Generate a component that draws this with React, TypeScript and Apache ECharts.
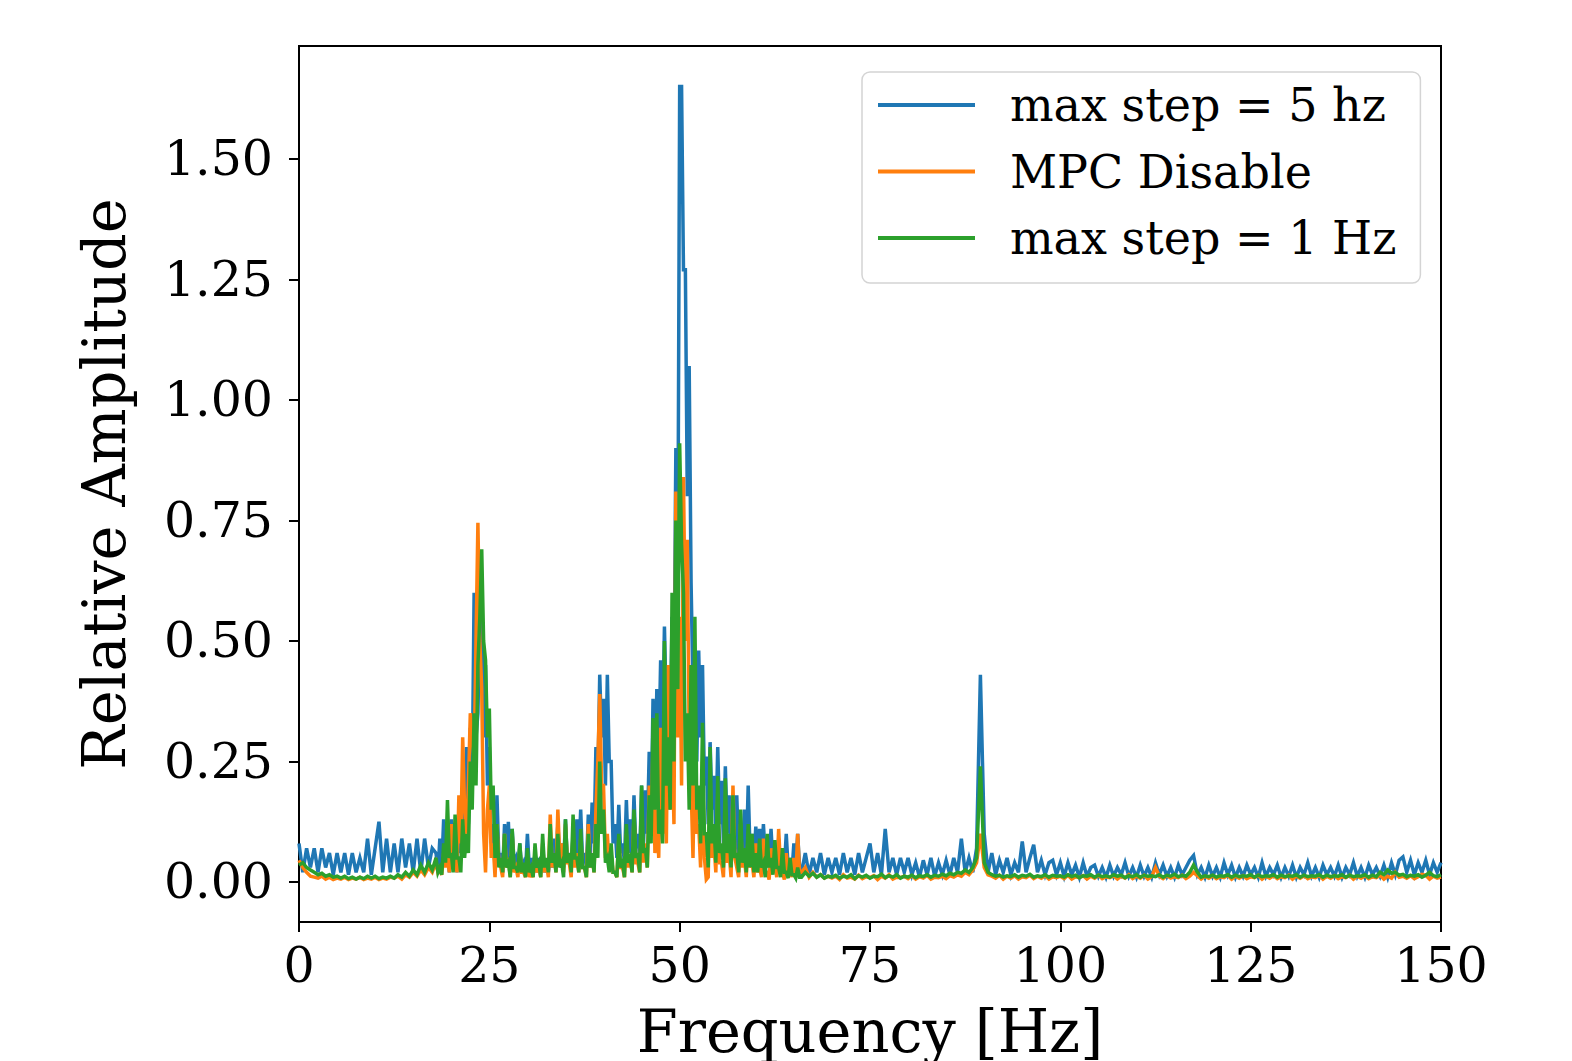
import React, { useEffect, useRef } from "react";
import * as echarts from "echarts";

// Base sampling of the read-off spectra (Hz): index i -> i * FREQ_STEP
const FREQ_STEP = 0.5;
// Extra in-between samples for the busy 18–66 Hz band: index j -> MID_START + j * FREQ_STEP
const MID_START = 18.25;
const X_TICKS = [0, 25, 50, 75, 100, 125, 150];
const Y_TICKS = [0, 0.25, 0.5, 0.75, 1.0, 1.25, 1.5];
const SERIES_NAMES = ["max step = 5 hz", "MPC Disable", "max step = 1 Hz"];
const COLORS = ["#1f77b4", "#ff7f0e", "#2ca02c"];

// each line = 10 Hz (20 samples)
const BLUE = [
  0.08,0.02,0.07,0.03,0.07,0.02,0.07,0.03,0.06,0.015,0.06,0.02,0.06,0.015,0.06,0.02,0.05,0.02,0.09,0.015,
  0.07,0.125,0.02,0.09,0.02,0.08,0.02,0.09,0.03,0.08,0.02,0.09,0.02,0.09,0.03,0.07,0.06,0.09,0.13,0.08,
  0.13,0.07,0.15,0.10,0.28,0.32,0.60,0.35,0.55,0.45,0.28,0.12,0.18,0.06,0.12,0.125,0.11,0.05,0.08,0.04,
  0.10,0.05,0.06,0.05,0.05,0.04,0.06,0.09,0.12,0.08,0.13,0.06,0.10,0.13,0.15,0.06,0.14,0.165,0.28,0.43,
  0.38,0.43,0.25,0.12,0.16,0.08,0.17,0.13,0.18,0.10,0.20,0.19,0.27,0.38,0.40,0.46,0.53,0.44,0.55,0.90,
  1.65,1.27,0.80,0.62,0.42,0.48,0.45,0.26,0.29,0.22,0.28,0.21,0.24,0.18,0.14,0.18,0.12,0.15,0.20,0.10,
  0.115,0.11,0.12,0.08,0.11,0.06,0.09,0.07,0.10,0.05,0.08,0.10,0.02,0.06,0.015,0.05,0.02,0.06,0.015,0.05,
  0.02,0.05,0.015,0.06,0.02,0.05,0.015,0.06,0.02,0.05,0.08,0.02,0.06,0.015,0.11,0.02,0.05,0.015,0.05,0.02,
  0.05,0.015,0.04,0.01,0.045,0.015,0.05,0.012,0.04,0.015,0.045,0.015,0.05,0.02,0.09,0.02,0.05,0.02,0.07,0.43,
  0.10,0.02,0.06,0.015,0.045,0.02,0.05,0.015,0.04,0.02,0.084,0.02,0.05,0.077,0.02,0.045,0.015,0.04,0.045,0.015,
  0.04,0.012,0.04,0.015,0.035,0.01,0.04,0.012,0.03,0.035,0.012,0.03,0.01,0.035,0.012,0.03,0.015,0.04,0.012,0.03,
  0.01,0.035,0.012,0.03,0.01,0.04,0.015,0.035,0.012,0.03,0.01,0.035,0.015,0.03,0.045,0.055,0.015,0.03,0.01,0.035,
  0.012,0.03,0.01,0.04,0.015,0.035,0.01,0.03,0.012,0.035,0.015,0.03,0.01,0.04,0.012,0.03,0.015,0.035,0.01,0.03,
  0.012,0.035,0.01,0.03,0.015,0.04,0.012,0.03,0.01,0.035,0.015,0.03,0.012,0.035,0.01,0.03,0.015,0.04,0.012,0.03,
  0.01,0.035,0.015,0.03,0.012,0.035,0.01,0.04,0.015,0.045,0.052,0.02,0.045,0.015,0.04,0.02,0.045,0.015,0.04,0.02,
  0.04,
];
// 18.25 … 65.75 Hz
const BLUE_MID = [
  0.02,0.03,0.04,0.02,0.05,0.02,0.06,0.15,0.12,0.20,0.30,0.55,0.30,0.20,0.08,0.03,0.05,0.02,0.04,0.03,0.04,0.02,0.03,0.02,
  0.03,0.02,0.02,0.02,0.02,0.02,0.03,0.04,0.05,0.03,0.04,0.03,0.04,0.05,0.04,0.03,0.05,0.08,0.20,0.30,
  0.20,0.25,0.08,0.05,0.06,0.04,0.06,0.05,0.07,0.05,0.08,0.10,0.12,0.20,0.25,0.30,0.35,0.30,0.40,0.60,
  1.65,1.27,1.07,0.40,0.25,0.30,0.20,0.12,0.15,0.10,0.12,0.08,0.10,0.07,0.06,0.06,0.05,0.05,0.06,0.04,
  0.05,0.04,0.05,0.03,0.04,0.03,0.03,0.03,0.03,0.02,0.03,0.03,
];

const ORANGE = [
  0.045,0.03,0.02,0.012,0.01,0.008,0.012,0.006,0.01,0.005,0.008,0.006,0.01,0.005,0.008,0.006,0.01,0.005,0.008,0.006,
  0.01,0.005,0.008,0.006,0.01,0.008,0.012,0.006,0.015,0.01,0.02,0.012,0.025,0.015,0.03,0.02,0.04,0.025,0.06,0.05,
  0.12,0.06,0.18,0.30,0.10,0.35,0.25,0.745,0.40,0.02,0.20,0.08,0.12,0.03,0.10,0.05,0.10,0.03,0.07,0.02,
  0.05,0.02,0.06,0.03,0.08,0.04,0.14,0.06,0.15,0.08,0.12,0.04,0.10,0.06,0.09,0.03,0.12,0.05,0.15,0.39,
  0.20,0.10,0.06,0.02,0.09,0.03,0.10,0.05,0.14,0.04,0.12,0.08,0.20,0.29,0.15,0.32,0.22,0.45,0.30,0.81,
  0.55,0.84,0.71,0.20,0.30,0.12,0.25,0.005,0.22,0.08,0.18,0.04,0.15,0.06,0.20,0.03,0.12,0.05,0.10,0.04,
  0.08,0.03,0.09,0.02,0.07,0.04,0.11,0.02,0.06,0.03,0.05,0.10,0.02,0.03,0.01,0.02,0.01,0.015,0.008,0.012,
  0.008,0.012,0.005,0.015,0.008,0.01,0.006,0.014,0.007,0.011,0.009,0.013,0.005,0.012,0.008,0.015,0.006,0.01,0.009,0.012,
  0.007,0.013,0.006,0.011,0.008,0.014,0.006,0.01,0.009,0.012,0.007,0.013,0.01,0.015,0.012,0.02,0.015,0.025,0.04,0.10,
  0.03,0.015,0.012,0.008,0.014,0.006,0.012,0.008,0.013,0.006,0.011,0.009,0.014,0.007,0.012,0.008,0.013,0.006,0.011,0.009,
  0.012,0.007,0.014,0.006,0.011,0.009,0.013,0.006,0.012,0.008,0.014,0.007,0.011,0.009,0.013,0.006,0.012,0.008,0.015,0.007,
  0.012,0.008,0.014,0.006,0.011,0.03,0.012,0.007,0.013,0.008,0.011,0.009,0.014,0.007,0.012,0.02,0.013,0.006,0.012,0.008,
  0.013,0.007,0.011,0.009,0.014,0.006,0.012,0.008,0.013,0.007,0.011,0.009,0.014,0.006,0.012,0.008,0.013,0.007,0.011,0.009,
  0.014,0.006,0.012,0.008,0.013,0.007,0.011,0.009,0.014,0.006,0.012,0.008,0.013,0.007,0.011,0.009,0.014,0.006,0.012,0.008,
  0.013,0.007,0.011,0.009,0.014,0.006,0.012,0.008,0.02,0.01,0.012,0.008,0.013,0.007,0.011,0.016,0.014,0.006,0.012,0.008,
  0.01,
];
const ORANGE_MID = [
  0.02,0.015,0.03,0.02,
  0.04,0.02,0.08,0.15,0.20,0.30,0.50,0.50,0.10,0.15,0.05,0.01,0.04,0.01,0.03,0.01,0.02,0.01,0.02,0.01,
  0.01,0.01,0.02,0.01,0.02,0.01,0.03,0.02,0.05,0.02,0.04,0.01,0.03,0.02,0.03,0.01,0.03,0.02,0.25,0.20,
  0.05,0.03,0.02,0.01,0.03,0.01,0.03,0.02,0.04,0.02,0.04,0.03,0.10,0.06,0.05,0.10,0.08,0.15,0.12,0.30,
  0.20,0.50,0.30,0.05,0.10,0.03,0.05,0.01,0.05,0.02,0.04,0.01,0.04,0.01,0.05,0.01,0.03,0.01,0.03,0.01,
  0.02,0.01,0.02,0.005,0.02,0.01,0.03,0.005,0.02,0.01,0.01,0.02,
];

const GREEN = [
  0.035,0.04,0.03,0.025,0.02,0.015,0.018,0.012,0.015,0.01,0.012,0.008,0.012,0.007,0.01,0.006,0.01,0.007,0.012,0.008,
  0.012,0.007,0.01,0.008,0.012,0.008,0.015,0.01,0.02,0.012,0.025,0.015,0.035,0.02,0.04,0.025,0.05,0.03,0.08,0.17,
  0.06,0.14,0.05,0.13,0.10,0.25,0.35,0.45,0.69,0.46,0.36,0.20,0.12,0.05,0.10,0.04,0.11,0.03,0.08,0.04,
  0.07,0.03,0.08,0.04,0.10,0.05,0.12,0.06,0.10,0.04,0.13,0.06,0.14,0.05,0.11,0.03,0.10,0.06,0.12,0.25,
  0.15,0.05,0.08,0.02,0.10,0.04,0.12,0.05,0.15,0.06,0.20,0.07,0.18,0.34,0.35,0.15,0.50,0.30,0.60,0.75,
  0.91,0.60,0.35,0.45,0.55,0.20,0.33,0.10,0.28,0.12,0.22,0.08,0.215,0.10,0.18,0.06,0.15,0.07,0.12,0.10,
  0.06,0.09,0.04,0.10,0.05,0.087,0.03,0.07,0.02,0.05,0.015,0.03,0.01,0.02,0.012,0.018,0.01,0.015,0.008,0.012,
  0.01,0.014,0.008,0.012,0.01,0.015,0.007,0.013,0.01,0.014,0.008,0.012,0.011,0.016,0.009,0.013,0.01,0.015,0.008,0.012,
  0.01,0.014,0.009,0.013,0.011,0.015,0.01,0.014,0.012,0.016,0.013,0.018,0.015,0.02,0.018,0.025,0.02,0.03,0.05,0.24,
  0.04,0.02,0.015,0.012,0.014,0.01,0.013,0.011,0.015,0.01,0.014,0.012,0.016,0.01,0.013,0.011,0.015,0.01,0.014,0.012,
  0.013,0.01,0.015,0.011,0.014,0.009,0.013,0.012,0.015,0.01,0.014,0.011,0.013,0.01,0.015,0.012,0.014,0.009,0.013,0.011,
  0.015,0.01,0.014,0.012,0.013,0.011,0.015,0.01,0.014,0.012,0.016,0.011,0.014,0.012,0.02,0.035,0.02,0.01,0.013,0.011,
  0.014,0.01,0.013,0.012,0.015,0.01,0.014,0.011,0.013,0.012,0.015,0.01,0.014,0.011,0.013,0.012,0.015,0.01,0.014,0.011,
  0.013,0.012,0.015,0.01,0.014,0.011,0.013,0.012,0.015,0.01,0.014,0.011,0.013,0.012,0.015,0.01,0.014,0.011,0.013,0.012,
  0.015,0.01,0.014,0.011,0.02,0.015,0.025,0.018,0.02,0.014,0.016,0.011,0.014,0.012,0.015,0.01,0.014,0.02,0.013,0.011,
  0.015,
];
const GREEN_MID = [
  0.02,0.015,0.04,0.05,
  0.02,0.05,0.02,0.05,0.06,0.15,0.20,0.55,0.50,0.30,0.15,0.05,0.03,0.02,0.03,0.01,0.03,0.02,0.02,0.01,
  0.02,0.01,0.03,0.01,0.03,0.02,0.04,0.02,0.03,0.01,0.04,0.02,0.05,0.02,0.03,0.01,0.03,0.02,0.05,0.10,
  0.04,0.02,0.02,0.01,0.03,0.01,0.04,0.02,0.05,0.02,0.06,0.03,0.08,0.15,0.10,0.08,0.20,0.15,0.25,0.40,
  0.70,0.25,0.15,0.20,0.15,0.08,0.10,0.03,0.08,0.04,0.06,0.03,0.06,0.03,0.05,0.02,0.04,0.02,0.03,0.02,
  0.02,0.03,0.01,0.03,0.015,0.03,0.01,0.02,0.008,0.015,0.008,0.01,
];

const FONT = "'DejaVu Serif', serif";

export default function App() {
  const ref = useRef<HTMLDivElement>(null);

  useEffect(() => {
    document.body.style.margin = "0";
    if (!ref.current) return;
    const chart = echarts.init(ref.current, null, { renderer: "svg" });
    const toPairs = (base: number[], mid: number[]) => {
      const pts = base.map((v, i) => [i * FREQ_STEP, v]);
      mid.forEach((v, j) => pts.push([MID_START + j * FREQ_STEP, v]));
      return pts.sort((a, b) => a[0] - b[0]);
    };
    const allSeries = [
      [BLUE, BLUE_MID],
      [ORANGE, ORANGE_MID],
      [GREEN, GREEN_MID],
    ];

    chart.setOption({
      animation: false,
      backgroundColor: "#ffffff",
      grid: {
        left: 299,
        top: 46,
        width: 1142,
        height: 876,
        show: true,
        borderColor: "#000",
        borderWidth: 2,
        backgroundColor: "transparent",
        containLabel: false,
        outerBoundsMode: "none",
      },
      legend: {
        orient: "vertical",
        left: 862,
        top: 72,
        padding: [10, 24, 22, 16],
        icon: "rect",
        itemWidth: 97,
        itemHeight: 4,
        itemGap: 20.5,
        backgroundColor: "#ffffff",
        borderColor: "#d4d4d4",
        borderWidth: 1.5,
        borderRadius: 8,
        data: SERIES_NAMES,
        textStyle: {
          fontFamily: FONT,
          fontSize: 46,
          color: "#000",
          lineHeight: 46,
          padding: [0, 0, 0, 30],
        },
      },
      xAxis: {
        type: "value",
        min: 0,
        max: 150,
        interval: 25,
        name: "Frequency [Hz]",
        nameLocation: "middle",
        nameGap: 80,
        nameTextStyle: { fontFamily: FONT, fontSize: 59, color: "#000" },
        axisLine: { show: true, onZero: false, lineStyle: { color: "#000", width: 2 } },
        axisTick: { show: true, length: 10, lineStyle: { color: "#000", width: 2 } },
        axisLabel: {
          fontFamily: FONT,
          fontSize: 49,
          color: "#000",
          margin: 19,
          customValues: X_TICKS,
        },
        splitLine: { show: false },
      },
      yAxis: {
        type: "value",
        min: -0.083,
        max: 1.734,
        name: "Relative Amplitude",
        nameLocation: "middle",
        nameRotate: 90,
        nameGap: 165,
        nameTextStyle: { fontFamily: FONT, fontSize: 59, color: "#000" },
        axisLine: { show: true, onZero: false, lineStyle: { color: "#000", width: 2 } },
        axisTick: {
          show: true,
          length: 10,
          lineStyle: { color: "#000", width: 2 },
          customValues: Y_TICKS,
        },
        axisLabel: {
          fontFamily: FONT,
          fontSize: 49,
          color: "#000",
          margin: 26,
          customValues: Y_TICKS,
          formatter: (v: number) => v.toFixed(2),
        },
        splitLine: { show: false },
      },
      series: allSeries.map(([base, mid], k) => ({
        name: SERIES_NAMES[k],
        type: "line",
        data: toPairs(base, mid),
        symbol: "none",
        showSymbol: false,
        lineStyle: { color: COLORS[k], width: 3.5, join: "miter" },
        itemStyle: { color: COLORS[k] },
        emphasis: { disabled: true },
        z: 2 + k,
      })),
    });

    return () => chart.dispose();
  }, []);

  return <div ref={ref} style={{ width: 1572, height: 1061 }} />;
}
